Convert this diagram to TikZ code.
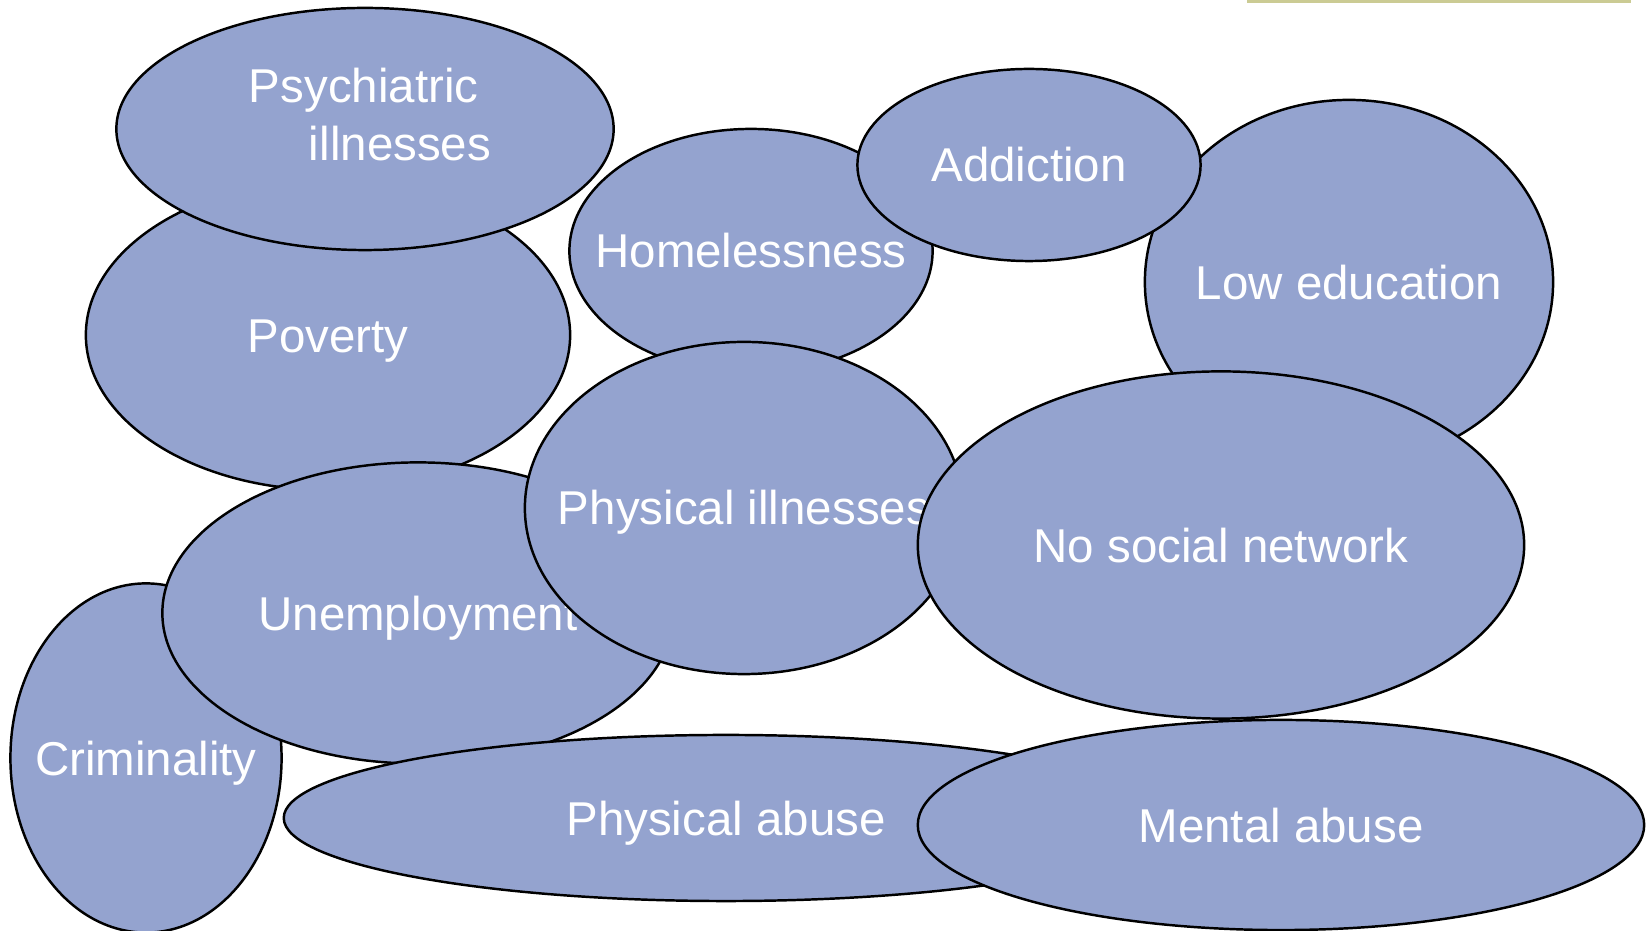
\documentclass[tikz,border=0pt]{standalone}
\usepackage{fontspec}
\setmainfont{Liberation Sans}
\usepackage{xcolor}
\usetikzlibrary{shapes.geometric}
\definecolor{blobfill}{RGB}{148,163,207}
\definecolor{rulecol}{RGB}{203,203,148}
\newcommand{\blobtxt}[1]{\makebox[0pt]{#1}}

\begin{document}
\begin{tikzpicture}[x=0.01cm, y=-0.01cm,
		blob/.style={ellipse, draw=black, line width=0.7pt, fill=blobfill, inner sep=0pt,
			text height=0.44cm, text depth=0.1cm,
			text=white, font=\fontsize{13.5}{16.5}\selectfont},
		blobtext/.style={text=white, font=\fontsize{13.5}{16.5}\selectfont, inner sep=0pt}]
		\fill[white] (0,0) rectangle (1650,931);
		\useasboundingbox (0,0) rectangle (1650,931);
		\fill[rulecol] (1247,0) rectangle (1631,3);
		
		% Top row
		\node[blob, minimum width=4.84cm, minimum height=3.10cm] (poverty) at (328,335) {\blobtxt{Poverty}};
		\node[blob, minimum width=4.97cm, minimum height=2.42cm] (psych) at (365,129) {};
		\node[blobtext, align=left] (psychtext) at (370,115) {Psychiatric\\\hspace*{0.6cm}illnesses};
		\node[blob, minimum width=3.63cm, minimum height=2.44cm] (homeless) at (751,251) {\blobtxt{Homelessness}};
		\node[blob, minimum width=4.08cm, minimum height=3.64cm] (lowedu) at (1349,282) {\blobtxt{Low education}};
		\node[blob, minimum width=3.43cm, minimum height=1.92cm] (addiction) at (1029,165) {\blobtxt{Addiction}};
		
		% Middle row
		\node[blob, minimum width=2.71cm, minimum height=3.49cm] (crime) at (146,758) {\blobtxt{Criminality}};
		\node[blob, minimum width=5.11cm, minimum height=3.01cm] (unemploy) at (418,613) {\blobtxt{Unemployment}};
		\node[blob, minimum width=4.38cm, minimum height=3.32cm] (physill) at (744,508) {\blobtxt{Physical illnesses}};
		\node[blob, minimum width=6.06cm, minimum height=3.47cm] (network) at (1221,545) {\blobtxt{No social network}};
		
		% Bottom row
		\node[blob, minimum width=8.84cm, minimum height=1.66cm] (physabuse) at (726,818) {\blobtxt{Physical abuse}};
		\node[blob, minimum width=7.26cm, minimum height=2.10cm] (mentabuse) at (1281,825) {\blobtxt{Mental abuse}};
	\end{tikzpicture}
\end{document}
